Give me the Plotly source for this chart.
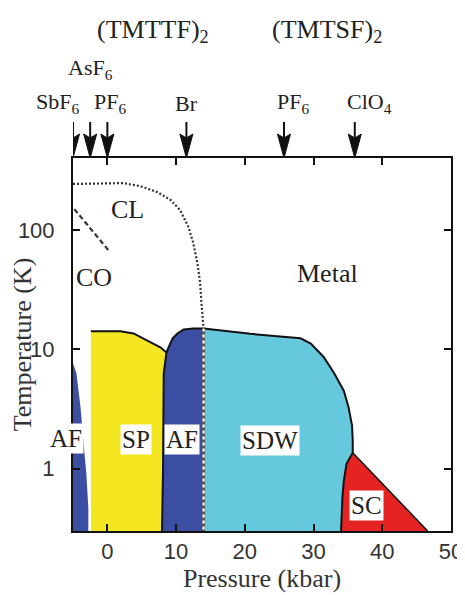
import math
import plotly.graph_objects as go

# ---------------- data (pressure in kbar, temperature in K) ----------------
af_left_p = [-5.0, -5.0, -4.5, -3.9, -3.5, -3.06, -2.77, -2.77]
af_left_t = [0.3, 7.6, 6.3, 3.26, 1.72, 0.91, 0.47, 0.3]

sp_p = [-2.4, -2.4, 1.9, 3.8, 6.3, 7.7, 8.6, 8.2, 8.1, 7.95]
sp_t = [0.3, 14.2, 14.2, 13.6, 11.5, 10.4, 9.4, 6.3, 1.0, 0.3]

afm_p = [7.95, 8.1, 8.2, 8.6, 8.9, 9.5, 10.2, 11.1, 12.5, 14.0, 14.0]
afm_t = [0.3, 1.0, 6.3, 9.4, 10.4, 12.4, 13.6, 14.7, 15.0, 15.0, 0.3]

sdw_p = [14.0, 14.0, 20.8, 28.1, 29.6, 31.5, 33.0, 34.4, 35.1, 35.6, 35.7, 35.7, 34.8, 34.4, 34.2, 34.0]
sdw_t = [0.3, 15.0, 13.5, 12.4, 11.2, 8.6, 6.3, 4.5, 3.26, 2.3, 1.72, 1.36, 1.1, 0.79, 0.57, 0.3]

sc_p = [34.0, 34.2, 34.4, 34.8, 35.7, 46.6]
sc_t = [0.3, 0.57, 0.79, 1.1, 1.36, 0.3]

cl_p = [-5.0, -1.0, 2.3, 4.8, 7.3, 9.2, 10.6, 11.8, 12.5, 13.1, 13.5, 13.7, 13.85, 14.0, 14.0]
cl_t = [244, 248, 248, 234, 208, 179, 147, 106, 78, 53, 36, 24, 17, 15.0, 0.3]

co_p = [-4.8, -2.33, 0.15]
co_t = [150, 102, 68]

region_labels = ["AF", "SP", "AF", "SDW", "SC"]
region_p = [-5.0, 4.1, 10.9, 23.7, 37.7]
region_t = [1.79, 1.75, 1.75, 1.72, 0.49]
region_xshift = [-7, 0, 0, 0, 0]

text_labels = ["CL", "CO", "Metal"]
text_p = [2.9, -2.0, 32.0]
text_t = [150, 40, 43.5]

arrow_p = [-5.0, -2.5, 0.0, 11.5, 25.7, 36.0]
arrow_labels = ["SbF<sub>6</sub>", "AsF<sub>6</sub>", "PF<sub>6</sub>", "Br", "PF<sub>6</sub>", "ClO<sub>4</sub>"]
arrow_row = [0, 1, 0, 0, 0, 0]
arrow_label_shift = [-16, 0, 3, 0, 9, 15]

family_labels = ["(TMTTF)<sub>2</sub>", "(TMTSF)<sub>2</sub>"]
family_p = [6.6, 32.0]

x_ticks = [0, 10, 20, 30, 40, 50]
y_ticks = [1, 10, 100]

# ---------------- colours ----------------
BLUE = "#3c4ea2"
YELLOW = "#f4e722"
CYAN = "#66c8dc"
RED = "#e52323"
SERIF = "Liberation Serif"
SANS = "Liberation Sans"

fig = go.Figure()


def region(px, ty, color):
    fig.add_trace(go.Scatter(x=px, y=ty, mode="lines", fill="toself", fillcolor=color,
                             line=dict(width=0, color=color), hoverinfo="skip", showlegend=False))


region(af_left_p, af_left_t, BLUE)
region(sp_p, sp_t, YELLOW)
region(afm_p, afm_t, BLUE)
region(sdw_p, sdw_t, CYAN)
region(sc_p, sc_t, RED)


def line(px, ty, width=2.0, color="#111", dash="solid"):
    fig.add_trace(go.Scatter(x=px, y=ty, mode="lines", line=dict(width=width, color=color, dash=dash),
                             hoverinfo="skip", showlegend=False))


# black phase boundaries
line(sp_p[1:7], sp_t[1:7])
bp = afm_p[:10] + sdw_p[2:12] + sc_p[:4][::-1]
bt = afm_t[:10] + sdw_t[2:12] + sc_t[:4][::-1]
line(bp, bt)
line(sc_p[4:], sc_t[4:], width=1.5)

# crossover lines
line(cl_p[-2:], cl_t[-2:], width=3, color="#555")
line(cl_p[-2:], cl_t[-2:], width=2.2, color="white", dash="3px,3px")
line(cl_p[:-1], cl_t[:-1], width=2.2, color="#333", dash="2px,2px")
line(co_p, co_t, width=2.2, color="#333", dash="5px,3px")

annotations = []
for lab, p, t, sh in zip(region_labels, region_p, region_t, region_xshift):
    annotations.append(dict(x=p, y=math.log10(t), yref="y", xref="x", text=lab, showarrow=False,
                            xshift=sh, font=dict(family=SERIF, size=25, color="#222"),
                            bgcolor="white", borderpad=1))
for lab, p, t in zip(text_labels, text_p, text_t):
    annotations.append(dict(x=p, y=math.log10(t), xref="x", yref="y", text=lab, showarrow=False,
                            font=dict(family=SERIF, size=26, color="#222")))
for lab, p, row, sh in zip(arrow_labels, arrow_p, arrow_row, arrow_label_shift):
    annotations.append(dict(x=p, y=1, xref="x", yref="paper", text=lab, showarrow=False,
                            xshift=sh, yshift=55 + 34 * row, yanchor="middle",
                            font=dict(family=SERIF, size=22, color="#222")))
for lab, p in zip(family_labels, family_p):
    annotations.append(dict(x=p, y=1, xref="x", yref="paper", text=lab, showarrow=False,
                            yshift=127, yanchor="middle",
                            font=dict(family=SERIF, size=26, color="#222")))

shapes = []
for p in arrow_p:
    shapes.append(dict(type="line", xref="x", yref="paper", xsizemode="pixel", ysizemode="pixel",
                       xanchor=p, yanchor=1, x0=0, x1=0, y0=10, y1=36,
                       line=dict(color="#111", width=2)))
    shapes.append(dict(type="path", xref="x", yref="paper", xsizemode="pixel", ysizemode="pixel",
                       xanchor=p, yanchor=1, path="M0,0 L-6.5,24 L0,20 L6.5,24 Z",
                       fillcolor="#111", line=dict(color="#111", width=1)))

# the page body has an 8px margin, so the figure is 8px smaller and margins compensate
fig.update_layout(
    width=457, height=587,
    margin=dict(l=65, r=14, t=150, b=64),
    paper_bgcolor="white", plot_bgcolor="white",
    showlegend=False,
    annotations=annotations,
    shapes=shapes,
    xaxis=dict(range=[-5, 50], tickvals=x_ticks, ticks="inside", ticklen=7, tickwidth=1.5,
               tickcolor="#111", showline=True, linecolor="#111", linewidth=2, mirror="ticks",
               showgrid=False, zeroline=False, automargin=False,
               tickfont=dict(family=SANS, size=22, color="#333"),
               title=dict(text="Pressure (kbar)", font=dict(family=SERIF, size=26, color="#333"), standoff=4)),
    yaxis=dict(type="log", range=[-0.5229, 2.605], tickvals=y_ticks, ticktext=["1", "10", "100"],
               ticks="inside", ticklen=7, tickwidth=1.5, tickcolor="#111",
               showline=True, linecolor="#111", linewidth=2, mirror="ticks",
               showgrid=False, zeroline=False, automargin=False, ticklabelstandoff=12,
               tickfont=dict(family=SANS, size=22, color="#333"),
               title=dict(text="Temperature (K)", font=dict(family=SERIF, size=26, color="#333"), standoff=2)),
)

fig.write_html("out.html")
